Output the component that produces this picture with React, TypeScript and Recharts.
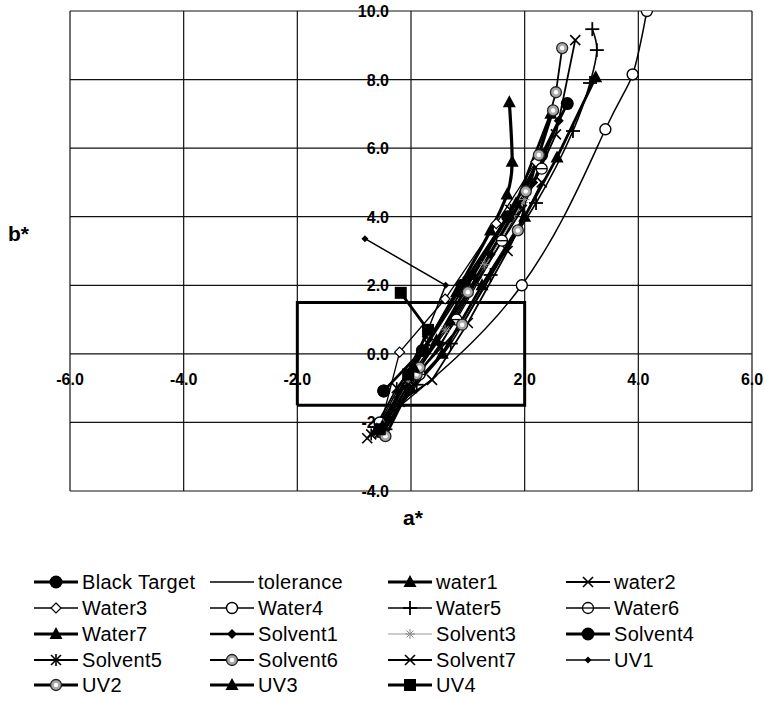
import React from "react";
import { CartesianGrid, ComposedChart, Label, Line, ReferenceDot, XAxis, YAxis } from "recharts";

type Pt = { a: number; b: number };

// grid / tick values
const aTicks = [-6, -4, -2, 0, 2, 4, 6];
const bTicks = [-4, -2, 0, 2, 4, 6, 8, 10];
const aTickLabels = [-6, -4, -2, 2, 4, 6];
const bTickLabels = [-4, -2, 0, 2, 4, 6, 8, 10];

// measured colour drift per sample (a*, b*)
const blackTarget: Pt[] = [{ a: -0.48, b: -1.08 }];
const tolerance: Pt[] = [
  { a: -2, b: -1.5 },
  { a: -2, b: 1.5 },
  { a: 2, b: 1.5 },
  { a: 2, b: -1.5 },
  { a: -2, b: -1.5 },
];
const water1: Pt[] = [
  { a: -0.5, b: -2.3 },
  { a: 0.0, b: -1.0 },
  { a: 0.55, b: 0.0 },
  { a: 1.25, b: 2.0 },
  { a: 2.0, b: 4.0 },
  { a: 2.57, b: 5.73 },
  { a: 3.25, b: 8.07 },
];
const water2: Pt[] = [
  { a: -0.77, b: -2.46 },
  { a: -0.2, b: -1.4 },
  { a: 0.37, b: -0.76 },
  { a: 1.0, b: 0.9 },
  { a: 1.7, b: 3.0 },
  { a: 2.3, b: 5.0 },
];
const water3: Pt[] = [
  { a: -0.55, b: -2.2 },
  { a: -0.2, b: 0.05 },
  { a: 0.6, b: 1.6 },
  { a: 1.5, b: 3.8 },
  { a: 2.2, b: 5.6 },
];
const water4: Pt[] = [
  { a: -0.55, b: -2.0 },
  { a: 1.95, b: 2.0 },
  { a: 3.42, b: 6.55 },
  { a: 3.9, b: 8.15 },
  { a: 4.15, b: 10.0 },
];
const water5: Pt[] = [
  { a: -0.45, b: -2.2 },
  { a: 0.1, b: -0.9 },
  { a: 0.7, b: 0.3 },
  { a: 1.4, b: 2.3 },
  { a: 2.2, b: 4.4 },
  { a: 2.85, b: 6.5 },
  { a: 3.15, b: 7.9 },
  { a: 3.27, b: 8.86 },
  { a: 3.19, b: 9.47 },
];
const water6: Pt[] = [
  { a: -0.5, b: -2.3 },
  { a: 0.15, b: -0.6 },
  { a: 0.8, b: 1.0 },
  { a: 1.6, b: 3.3 },
  { a: 2.3, b: 5.4 },
];
const water7: Pt[] = [
  { a: -0.6, b: -2.2 },
  { a: -0.1, b: -0.9 },
  { a: 0.45, b: 0.4 },
  { a: 1.1, b: 2.3 },
  { a: 1.85, b: 4.4 },
  { a: 2.46, b: 7.0 },
];
const solvent1: Pt[] = [
  { a: -0.4, b: -1.9 },
  { a: 0.1, b: -0.5 },
  { a: 0.7, b: 0.9 },
  { a: 1.4, b: 2.9 },
  { a: 2.15, b: 5.0 },
  { a: 2.6, b: 6.8 },
];
const solvent3: Pt[] = [
  { a: -0.55, b: -2.3 },
  { a: -0.05, b: -0.8 },
  { a: 0.6, b: 0.7 },
  { a: 1.3, b: 2.6 },
  { a: 2.0, b: 4.5 },
];
const solvent4: Pt[] = [
  { a: -0.48, b: -1.08 },
  { a: 0.2, b: 0.1 },
  { a: 0.9, b: 2.0 },
  { a: 1.7, b: 4.0 },
  { a: 2.3, b: 5.8 },
  { a: 2.75, b: 7.3 },
];
const solvent5: Pt[] = [
  { a: -0.7, b: -2.35 },
  { a: -0.25, b: -1.0 },
  { a: 0.3, b: 0.3 },
  { a: 1.0, b: 2.1 },
  { a: 1.75, b: 4.2 },
];
const solvent6: Pt[] = [
  { a: -0.5, b: -2.3 },
  { a: 0.1, b: -0.6 },
  { a: 0.9, b: 0.85 },
  { a: 1.88, b: 3.6 },
  { a: 2.55, b: 7.63 },
  { a: 2.66, b: 8.92 },
];
const solvent7: Pt[] = [
  { a: -0.55, b: -2.3 },
  { a: -0.05, b: -0.9 },
  { a: 0.5, b: 0.2 },
  { a: 1.15, b: 2.1 },
  { a: 1.95, b: 4.2 },
  { a: 2.55, b: 6.4 },
  { a: 2.89, b: 9.15 },
];
const uv1: Pt[] = [
  { a: -0.65, b: -2.3 },
  { a: -0.25, b: -1.1 },
  { a: 0.25, b: 0.5 },
  { a: 0.61, b: 2.0 },
  { a: -0.81, b: 3.36 },
];
const uv2: Pt[] = [
  { a: -0.45, b: -2.4 },
  { a: 0.15, b: -0.4 },
  { a: 1.0, b: 1.8 },
  { a: 2.02, b: 4.74 },
  { a: 2.25, b: 5.8 },
  { a: 2.5, b: 7.1 },
];
const uv3: Pt[] = [
  { a: -0.5, b: -2.1 },
  { a: 0.05, b: -0.4 },
  { a: 0.8, b: 1.8 },
  { a: 1.4, b: 3.6 },
  { a: 1.69, b: 4.65 },
  { a: 1.78, b: 5.6 },
  { a: 1.73, b: 7.34 },
];
const uv4: Pt[] = [
  { a: -0.55, b: -2.2 },
  { a: -0.05, b: -0.6 },
  { a: 0.3, b: 0.7 },
  { a: -0.18, b: 1.78 },
];

type Series = {
  name: string;
  data: Pt[];
  marker: string;
  stroke: string;
  width: number;
  legendWidth?: number;
  curve: "linear" | "natural";
};

const series: Series[] = [
  { name: "Black Target", data: blackTarget, marker: "disc", stroke: "#000", width: 3, curve: "linear" },
  { name: "tolerance", data: tolerance, marker: "none", stroke: "#000", width: 3, legendWidth: 1.5, curve: "linear" },
  { name: "water1", data: water1, marker: "triangle", stroke: "#000", width: 2.8, curve: "linear" },
  { name: "water2", data: water2, marker: "cross", stroke: "#000", width: 1.8, curve: "linear" },
  { name: "Water3", data: water3, marker: "openDiamond", stroke: "#000", width: 1.3, curve: "linear" },
  { name: "Water4", data: water4, marker: "openCircle", stroke: "#000", width: 1.5, curve: "natural" },
  { name: "Water5", data: water5, marker: "plus", stroke: "#000", width: 1.6, curve: "natural" },
  { name: "Water6", data: water6, marker: "barCircle", stroke: "#000", width: 1.3, curve: "linear" },
  { name: "Water7", data: water7, marker: "triangle", stroke: "#000", width: 2.8, curve: "linear" },
  { name: "Solvent1", data: solvent1, marker: "diamond", stroke: "#000", width: 2.3, curve: "linear" },
  { name: "Solvent3", data: solvent3, marker: "star", stroke: "#9a9a9a", width: 1.2, curve: "linear" },
  { name: "Solvent4", data: solvent4, marker: "disc", stroke: "#000", width: 2.8, curve: "linear" },
  { name: "Solvent5", data: solvent5, marker: "asterisk", stroke: "#000", width: 1.8, curve: "linear" },
  { name: "Solvent6", data: solvent6, marker: "dotted", stroke: "#000", width: 1.8, curve: "linear" },
  { name: "Solvent7", data: solvent7, marker: "cross", stroke: "#000", width: 1.8, curve: "linear" },
  { name: "UV1", data: uv1, marker: "smallDiamond", stroke: "#000", width: 1.5, curve: "linear" },
  { name: "UV2", data: uv2, marker: "dotted", stroke: "#000", width: 2.8, curve: "linear" },
  { name: "UV3", data: uv3, marker: "triangle", stroke: "#000", width: 3.2, curve: "natural" },
  { name: "UV4", data: uv4, marker: "square", stroke: "#000", width: 2.8, curve: "linear" },
];

function Marker({ kind, cx, cy }: { kind: string; cx: number; cy: number }) {
  switch (kind) {
    case "disc":
      return <circle cx={cx} cy={cy} r={6.5} fill="#000" />;
    case "triangle":
      return <polygon points={`${cx},${cy - 7} ${cx + 6.5},${cy + 5} ${cx - 6.5},${cy + 5}`} fill="#000" />;
    case "cross":
      return (
        <g stroke="#000" strokeWidth={1.6}>
          <line x1={cx - 5} y1={cy - 5} x2={cx + 5} y2={cy + 5} />
          <line x1={cx - 5} y1={cy + 5} x2={cx + 5} y2={cy - 5} />
        </g>
      );
    case "openDiamond":
      return (
        <polygon
          points={`${cx},${cy - 5} ${cx + 5},${cy} ${cx},${cy + 5} ${cx - 5},${cy}`}
          fill="#fff"
          stroke="#000"
          strokeWidth={1.2}
        />
      );
    case "openCircle":
      return <circle cx={cx} cy={cy} r={5.5} fill="#fff" stroke="#000" strokeWidth={1.4} />;
    case "barCircle":
      return (
        <g stroke="#000" strokeWidth={1.3}>
          <circle cx={cx} cy={cy} r={5.5} fill="#fff" />
          <line x1={cx - 5.5} y1={cy} x2={cx + 5.5} y2={cy} />
        </g>
      );
    case "plus":
      return (
        <g stroke="#000" strokeWidth={1.8}>
          <line x1={cx - 7} y1={cy} x2={cx + 7} y2={cy} />
          <line x1={cx} y1={cy - 7} x2={cx} y2={cy + 7} />
        </g>
      );
    case "diamond":
      return <polygon points={`${cx},${cy - 5} ${cx + 5},${cy} ${cx},${cy + 5} ${cx - 5},${cy}`} fill="#000" />;
    case "smallDiamond":
      return <polygon points={`${cx},${cy - 3.5} ${cx + 3.5},${cy} ${cx},${cy + 3.5} ${cx - 3.5},${cy}`} fill="#000" />;
    case "star":
      return (
        <g stroke="#8a8a8a" strokeWidth={1}>
          <line x1={cx - 5} y1={cy} x2={cx + 5} y2={cy} />
          <line x1={cx} y1={cy - 5} x2={cx} y2={cy + 5} />
          <line x1={cx - 3.5} y1={cy - 3.5} x2={cx + 3.5} y2={cy + 3.5} />
          <line x1={cx - 3.5} y1={cy + 3.5} x2={cx + 3.5} y2={cy - 3.5} />
        </g>
      );
    case "asterisk":
      return (
        <g stroke="#000" strokeWidth={1.6}>
          <line x1={cx - 5} y1={cy - 5} x2={cx + 5} y2={cy + 5} />
          <line x1={cx - 5} y1={cy + 5} x2={cx + 5} y2={cy - 5} />
          <line x1={cx} y1={cy - 6} x2={cx} y2={cy + 6} />
        </g>
      );
    case "dotted":
      return (
        <g>
          <circle cx={cx} cy={cy} r={5.5} fill="#a8a8a8" stroke="#222" strokeWidth={1.3} />
          <circle cx={cx} cy={cy} r={2.2} fill="#fff" />
        </g>
      );
    case "square":
      return <rect x={cx - 6} y={cy - 6} width={12} height={12} fill="#000" />;
    default:
      return null;
  }
}

const legendCols = [34, 210, 388, 566];
const legendRows = [582, 608, 634, 660, 685];

function SeriesLegend() {
  return (
    <>
      {series.map((s, i) => (
        <div
          key={s.name}
          style={{
            position: "absolute",
            left: legendCols[i % 4],
            top: legendRows[Math.floor(i / 4)] - 12,
            height: 24,
            display: "flex",
            alignItems: "center",
            whiteSpace: "nowrap",
          }}
        >
          <svg width={44} height={16} style={{ display: "block" }}>
            <line x1={0} y1={8} x2={44} y2={8} stroke={s.stroke} strokeWidth={s.legendWidth ?? s.width} />
            <Marker kind={s.marker} cx={22} cy={8} />
          </svg>
          <span style={{ marginLeft: 4, fontSize: 20, letterSpacing: 0.3, color: "#000" }}>{s.name}</span>
        </div>
      ))}
    </>
  );
}

// tick text drawn next to the point the ReferenceDot sits on (axes cross at 0,0)
function tickLabel(text: string, side: "below" | "left") {
  return (
    <Label
      content={(props: any) => {
        const vb = props.viewBox || {};
        const x = side === "below" ? vb.x : vb.x - 22;
        const y = side === "below" ? vb.y + 31 : vb.y + 6;
        return (
          <text
            x={x}
            y={y}
            textAnchor={side === "below" ? "middle" : "end"}
            fontSize={16}
            fontWeight={700}
            fill="#000"
          >
            {text}
          </text>
        );
      }}
    />
  );
}

export default function App() {
  return (
    <div
      style={{
        position: "relative",
        width: 764,
        height: 703,
        background: "#fff",
        fontFamily: '"Liberation Sans", Arial, sans-serif',
      }}
    >
      <style>{"body{margin:0}"}</style>
      <ComposedChart width={764} height={545} margin={{ top: 11, right: 12, bottom: 54, left: 70 }}>
        <CartesianGrid stroke="#111" strokeWidth={1.2} />
        <XAxis
          type="number"
          dataKey="a"
          domain={[-6, 6]}
          ticks={aTicks}
          allowDataOverflow
          hide
        />
        <YAxis type="number" dataKey="b" domain={[-4, 10]} ticks={bTicks} allowDataOverflow hide />
        {aTickLabels.map((v) => (
          <ReferenceDot key={`a${v}`} x={v} y={0} r={0} fill="none" stroke="none" label={tickLabel(v.toFixed(1), "below")} />
        ))}
        {bTickLabels.map((v) => (
          <ReferenceDot key={`b${v}`} x={0} y={v} r={0} fill="none" stroke="none" label={tickLabel(v.toFixed(1), "left")} />
        ))}
        {series.map((s) => (
          <Line
            key={s.name}
            name={s.name}
            data={s.data}
            dataKey="b"
            type={s.curve}
            stroke={s.stroke}
            strokeWidth={s.width}
            dot={(p: any) => <Marker key={`${s.name}-${p.index}`} kind={s.marker} cx={p.cx} cy={p.cy} />}
            activeDot={false}
            isAnimationActive={false}
          />
        ))}
      </ComposedChart>
      <div style={{ position: "absolute", left: 8, top: 222, fontSize: 21, fontWeight: 700 }}>b*</div>
      <div style={{ position: "absolute", left: 403, top: 506, fontSize: 21, fontWeight: 700 }}>a*</div>
      <SeriesLegend />
    </div>
  );
}
